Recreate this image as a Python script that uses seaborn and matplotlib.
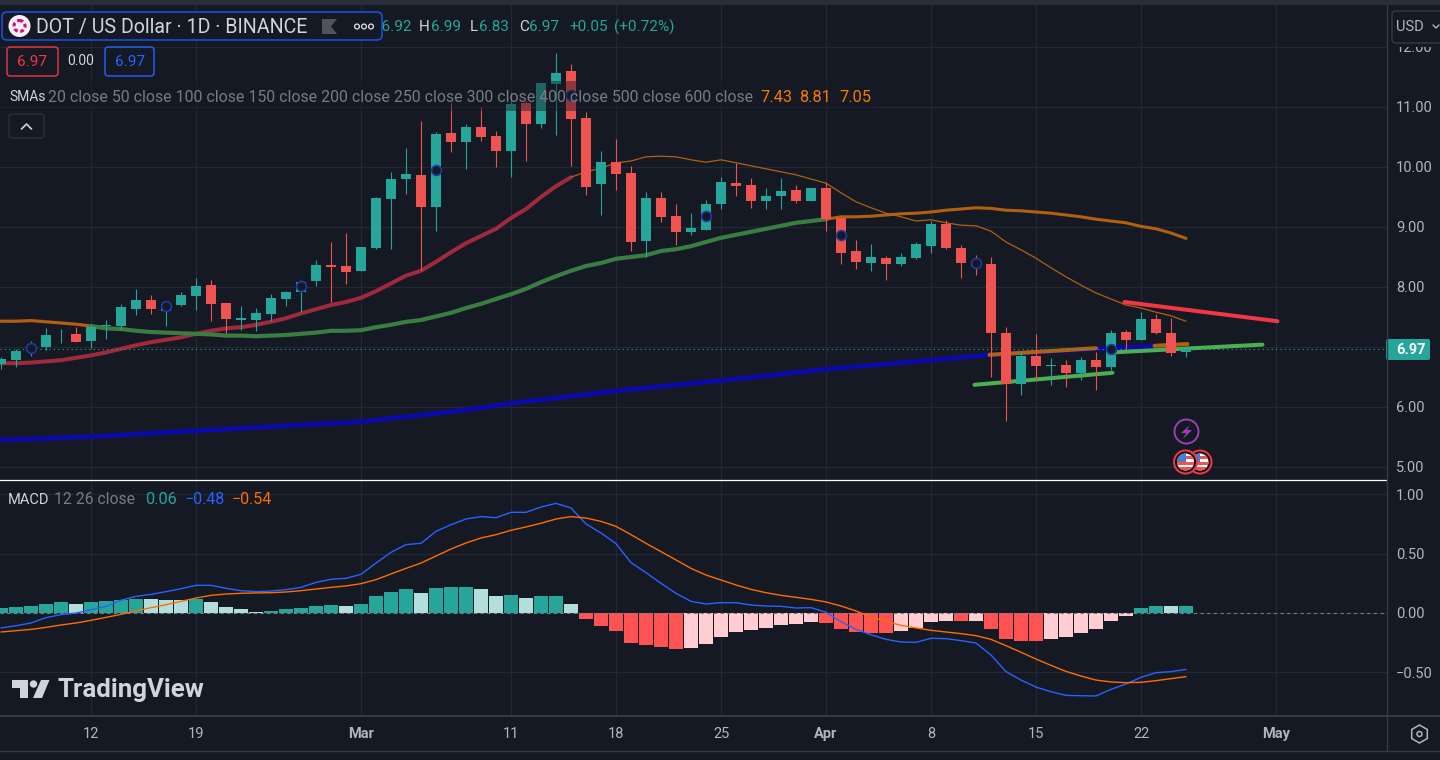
import matplotlib
matplotlib.use('Agg')
import matplotlib.pyplot as plt
from matplotlib.patches import Circle, FancyBboxPatch, Polygon, Rectangle, RegularPolygon
import seaborn as sns

# days counted from 12 Feb
days = list(range(-6, 74))
opens = [6.72, 6.78, 6.93, 7.00, 7.21, 7.22, 7.10, 7.35, 7.35, 7.63, 7.78, 7.60, 7.70, 7.85, 8.03, 7.73, 7.45, 7.45, 7.55, 7.80,
         7.92, 8.10, 8.37, 8.35, 8.27, 8.65, 9.47, 9.80, 9.87, 9.33, 10.57, 10.42, 10.67, 10.52, 10.27, 11.07, 10.72, 11.38, 11.60, 10.82,
         9.72, 10.08, 9.90, 8.77, 9.48, 9.18, 8.92, 8.95, 9.38, 9.73, 9.70, 9.43, 9.52, 9.62, 9.43, 9.65, 9.15, 8.60, 8.40, 8.48,
         8.38, 8.48, 8.68, 9.05, 8.65, 8.42, 8.38, 7.23, 6.38, 6.85, 6.68, 6.70, 6.57, 6.78, 6.67, 7.25, 7.12, 7.47, 7.23, 6.92]
closes = [6.80, 6.93, 7.00, 7.20, 7.22, 7.08, 7.33, 7.36, 7.67, 7.78, 7.63, 7.72, 7.87, 8.02, 7.72, 7.47, 7.48, 7.57, 7.82, 7.92,
          8.08, 8.37, 8.33, 8.25, 8.67, 9.48, 9.80, 9.88, 9.33, 10.55, 10.42, 10.67, 10.50, 10.27, 11.05, 10.72, 11.40, 11.57, 10.80, 9.67,
          10.08, 9.88, 8.75, 9.48, 9.17, 8.92, 8.98, 9.38, 9.75, 9.68, 9.43, 9.52, 9.60, 9.43, 9.65, 9.13, 8.57, 8.42, 8.50, 8.38,
          8.50, 8.72, 9.05, 8.65, 8.40, 8.35, 7.23, 6.38, 6.85, 6.68, 6.70, 6.57, 6.78, 6.67, 7.23, 7.12, 7.47, 7.23, 6.90, 6.97]
highs = [6.83, 6.96, 7.10, 7.32, 7.30, 7.33, 7.37, 7.45, 7.72, 7.97, 7.87, 7.75, 7.92, 8.15, 8.12, 7.73, 7.68, 7.65, 7.88, 7.93,
         8.12, 8.45, 8.75, 8.90, 8.67, 9.50, 9.92, 10.32, 10.77, 10.58, 11.07, 10.72, 11.00, 10.60, 11.25, 11.10, 11.42, 11.90, 11.72, 10.92,
         10.27, 10.47, 10.02, 9.58, 9.58, 9.38, 9.23, 9.45, 9.83, 10.07, 9.82, 9.65, 9.82, 9.70, 9.65, 9.75, 9.15, 8.78, 8.72, 8.52,
         8.57, 8.75, 9.10, 9.12, 8.70, 8.53, 8.50, 7.33, 6.93, 7.22, 6.82, 6.78, 6.83, 6.92, 7.28, 7.28, 7.58, 7.55, 7.48, 6.99]
lows = [6.64, 6.67, 6.85, 6.95, 7.07, 7.08, 6.98, 7.13, 7.28, 7.53, 7.55, 7.35, 7.68, 7.62, 7.43, 7.23, 7.28, 7.27, 7.43, 7.68,
        7.58, 8.02, 7.75, 8.05, 8.27, 8.63, 8.63, 9.55, 8.28, 8.93, 10.25, 9.97, 10.43, 10.00, 9.83, 10.10, 10.65, 10.53, 10.02, 9.53,
        9.20, 9.62, 8.60, 8.50, 9.08, 8.70, 8.87, 8.95, 9.30, 9.52, 9.32, 9.30, 9.30, 9.40, 9.43, 8.93, 8.38, 8.30, 8.27, 8.12,
        8.35, 8.47, 8.57, 8.63, 8.15, 8.20, 6.50, 5.77, 6.20, 6.43, 6.37, 6.33, 6.45, 6.28, 6.62, 6.97, 7.12, 7.22, 6.85, 6.83]

sma_a = [6.73, 6.73, 6.74, 6.76, 6.78, 6.82, 6.86, 6.91, 6.97, 7.03, 7.08, 7.12, 7.16, 7.22, 7.27, 7.31, 7.33, 7.37, 7.42, 7.48,
         7.56, 7.63, 7.70, 7.75, 7.82, 7.93, 8.06, 8.19, 8.27, 8.42, 8.58, 8.73, 8.85, 8.97, 9.15, 9.30, 9.50, 9.68, 9.83, 9.92,
         9.98, 10.07, 10.10, 10.17, 10.18, 10.17, 10.12, 10.08, 10.12, 10.07, 10.02, 9.97, 9.92, 9.87, 9.80, 9.73, 9.57, 9.42, 9.32, 9.23,
         9.17, 9.10, 9.12, 9.07, 9.03, 9.02, 8.93, 8.75, 8.62, 8.48, 8.32, 8.17, 8.03, 7.90, 7.80, 7.70, 7.65, 7.58, 7.52, 7.43]
sma_b = [7.43, 7.43, 7.44, 7.42, 7.40, 7.38, 7.35, 7.31, 7.30, 7.27, 7.25, 7.24, 7.23, 7.22, 7.21, 7.19, 7.19, 7.18, 7.19, 7.20,
         7.22, 7.24, 7.27, 7.27, 7.28, 7.33, 7.37, 7.42, 7.45, 7.51, 7.57, 7.65, 7.72, 7.80, 7.88, 7.97, 8.08, 8.18, 8.27, 8.35,
         8.40, 8.47, 8.50, 8.53, 8.60, 8.63, 8.68, 8.75, 8.82, 8.87, 8.92, 8.97, 9.02, 9.07, 9.10, 9.13, 9.17, 9.17, 9.18, 9.20,
         9.22, 9.23, 9.25, 9.28, 9.30, 9.32, 9.31, 9.28, 9.27, 9.25, 9.23, 9.20, 9.17, 9.13, 9.10, 9.07, 9.01, 8.97, 8.90, 8.81]
sma_c_days = [-6, 0, 7, 14, 18, 24, 28, 35, 42, 49, 56, 60, 67, 71]
sma_c = [5.45, 5.505, 5.605, 5.70, 5.755, 5.92, 6.06, 6.27, 6.44, 6.63, 6.78, 6.87, 6.97, 7.02]

marker_days = [-4, 5, 14, 23, 32, 41, 50, 59, 68]
marker_prices = [6.98, 7.68, 8.01, 9.95, 11.2, 9.18, 8.87, 8.40, 6.97]

# hand drawn trend lines
red_line_days, red_line = [68.9, 79.1], [7.75, 7.43]
green_low_days, green_low = [58.9, 68.1], [6.37, 6.57]
green_high_days, green_high = [68.1, 78.1], [6.91, 7.04]
orange_a_days, orange_a = [59.9, 67.0], [6.87, 6.98]
orange_b_days, orange_b = [70.9, 73.1], [7.02, 7.05]

macd_hist = [.04, .05, .06, .08, .09, .08, .09, .10, .11, .12, .12, .11, .11, .115, .09, .05, .03, .01, .02, .03,
             .045, .06, .07, .06, .08, .14, .18, .205, .17, .21, .22, .22, .20, .145, .155, .13, .14, .14, .08, -.05,
             -.11, -.15, -.25, -.27, -.29, -.30, -.295, -.26, -.20, -.16, -.145, -.125, -.10, -.09, -.075, -.085, -.135, -.16, -.17, -.17,
             -.15, -.125, -.075, -.07, -.07, -.07, -.135, -.22, -.235, -.235, -.22, -.20, -.17, -.135, -.07, -.025, .04, .06, .06, .06]
hist_shade = list('GGGGGLGGGGLLLGLLLLGGGGGLGGGGLGGGLLGLGGLRRR' + 'RRRR' + 'PPPPPPPPP' + 'RRRRR' + 'PPPP' + 'RP' + 'RRRR' + 'PPPPPP' + 'GGLG')
macd_line = [-.126, -.107, -.084, -.039, -.014, 0, .028, .056, .107, .14, .157, .18, .205, .233, .233, .208, .188, .18, .185, .197,
             .216, .258, .284, .292, .326, .421, .511, .576, .587, .688, .744, .792, .812, .803, .848, .848, .893, .924, .885, .75,
             .674, .584, .424, .34, .25, .166, .098, .076, .087, .087, .067, .059, .056, .042, .045, .006, -.073, -.138, -.183, -.222,
             -.244, -.247, -.213, -.216, -.233, -.253, -.354, -.494, -.565, -.624, -.663, -.694, -.697, -.699, -.643, -.598, -.542, -.503, -.494, -.475]
signal_line = [-.16, -.149, -.138, -.121, -.101, -.084, -.062, -.037, -.011, .017, .045, .07, .098, .126, .149, .16, .166, .169, .171, .177,
               .188, .202, .216, .228, .247, .281, .329, .376, .421, .48, .539, .59, .632, .66, .697, .725, .756, .792, .812, .80,
               .772, .73, .66, .587, .517, .447, .376, .32, .278, .236, .199, .171, .149, .132, .115, .093, .059, .017, -.034, -.07,
               -.104, -.126, -.146, -.16, -.174, -.191, -.222, -.275, -.331, -.388, -.441, -.492, -.531, -.565, -.581, -.587, -.584, -.57, -.553, -.536]

tick_days = [0, 7, 18, 28, 35, 42, 49, 56, 63, 70, 79]
tick_labels = ['12', '19', 'Mar', '11', '18', '25', 'Apr', '8', '15', '22', 'May']
price_ticks = [5, 6, 7, 8, 9, 10, 11, 12]
macd_ticks = [1.0, 0.5, 0.0, -0.5]
last_price = 6.97

BG = '#151924'
GRID = '#242833'
AXIS = '#363a45'
LABEL = '#b2b5be'
TEAL = '#26a69a'
RED = '#ef5350'
CRIMSON = '#a02a3c'
FOREST = '#3a7d41'
BURNT = '#b0600f'
NAVY = '#0a0aa8'
W, H, PANE_R = 1440, 760, 1387

sns.set_theme(style='dark', rc={'axes.facecolor': BG, 'figure.facecolor': BG, 'savefig.facecolor': BG})
plt.rcParams['font.family'] = ['Roboto', 'DejaVu Sans']


def pane(top, bottom):
    return [0, 1 - bottom / H, PANE_R / W, (bottom - top) / H]


def thick(ax, x, y, color, width=2.9, **kw):
    sns.lineplot(x=x, y=y, color=color, linewidth=width, ax=ax, estimator=None, solid_capstyle='round', **kw)


fig = plt.figure(figsize=(14.4, 7.6), dpi=100)
ax = fig.add_axes(pane(5, 479))
ax2 = fig.add_axes(pane(481, 716))

# price pane
thick(ax, days[:39], sma_a[:39], CRIMSON)
thick(ax, days[38:], sma_a[38:], BURNT, width=0.9)
thick(ax, days[:7], sma_b[:7], BURNT, width=2.3)
thick(ax, days[6:56], sma_b[6:56], FOREST, width=3.0)
thick(ax, days[55:], sma_b[55:], BURNT, width=2.2)
thick(ax, sma_c_days, sma_c, NAVY, width=3.4)
thick(ax, orange_a_days, orange_a, BURNT)
thick(ax, orange_b_days, orange_b, BURNT)
thick(ax, green_low_days, green_low, '#4caf50')
thick(ax, green_high_days, green_high, '#4caf50')

colors = [TEAL if c >= o else RED for o, c in zip(opens, closes)]
ax.vlines(days, lows, highs, colors=colors, linewidth=0.8, zorder=3)
ax.bar(days, [abs(c - o) for o, c in zip(opens, closes)], bottom=[min(o, c) for o, c in zip(opens, closes)],
       width=0.73, color=colors, edgecolor='none', linewidth=0, zorder=3)
thick(ax, red_line_days, red_line, '#f23645', zorder=4)
dots = sns.scatterplot(x=marker_days, y=marker_prices, s=50, ax=ax, zorder=5).collections[-1]
dots.set_facecolor(BG)
dots.set_edgecolor('#1c3aa0')
dots.set_linewidth(1.2)
ax.axhline(last_price, color=TEAL, linewidth=0.8, linestyle=(0, (1, 3)), zorder=2)

ax.set_xlim(-91 / 15, (PANE_R - 91) / 15)
ax.set_ylim((767 - 479) / 60, (767 - 5) / 60)
ax.set_yticks(price_ticks)
ax.set_yticklabels([f'{p:.2f}' for p in price_ticks])

# macd pane
sns.barplot(x=days, y=macd_hist, hue=hist_shade, native_scale=True, dodge=False, legend=False, width=0.92, gap=0,
            palette={'G': TEAL, 'L': '#b2dfdb', 'R': '#ff5252', 'P': '#ffcdd2'}, saturation=1, linewidth=0, ax=ax2)
ax2.axhline(0, color='#787b86', linewidth=0.8, linestyle=(0, (3, 3)), zorder=3)
sns.lineplot(x=days, y=macd_line, color='#2962ff', linewidth=1.0, ax=ax2, zorder=4)
sns.lineplot(x=days, y=signal_line, color='#ff6d00', linewidth=1.0, ax=ax2, zorder=4)
ax2.set_xlim(ax.get_xlim())
ax2.set_ylim(-103 / 118.7, 132 / 118.7)
ax2.set_yticks(macd_ticks)
ax2.set_yticklabels(['1.00', '0.50', '0.00', '\u22120.50'])
ax2.set_xticks(tick_days)
ax2.set_xticklabels(tick_labels)
for lab in ax2.get_xticklabels():
    lab.set_fontweight('bold' if lab.get_text() in ('Mar', 'Apr', 'May') else 'normal')
ax2.set_xlabel('')

for a in (ax, ax2):
    a.set_xticks(tick_days)
    a.yaxis.tick_right()
    a.grid(True, color=GRID, linewidth=0.9)
    a.set_axisbelow(True)
    a.tick_params(axis='y', length=0, pad=6.5, labelsize=10.5, labelcolor=LABEL)
    for s in a.spines.values():
        s.set_visible(False)
ax.tick_params(axis='x', length=0, labelbottom=False)
ax2.tick_params(axis='x', length=0, pad=8, labelsize=10.5, labelcolor=LABEL)

# everything TradingView draws over the panes, in pixels
ov = fig.add_axes([0, 0, 1, 1], zorder=10)
ov.set_xlim(0, W)
ov.set_ylim(H, 0)
ov.axis('off')
ov.patch.set_visible(False)


def label(x, y, s, color=LABEL, size=10.5, **kw):
    ov.text(x, y, s, color=color, fontsize=size, va='center', **kw)


def box(x0, y0, x1, y1, fc='none', ec=AXIS, lw=1.0, r=3, **kw):
    ov.add_patch(FancyBboxPatch((x0, y0), x1 - x0, y1 - y0, boxstyle=f'round,pad=0,rounding_size={r}',
                                fc=fc, ec=ec, lw=lw, **kw))


ov.add_patch(Rectangle((0, 0), W, 5, fc='#2a2e39', ec='none'))
ov.plot([0, PANE_R], [479.5, 479.5], color='white', lw=0.9)
ov.plot([PANE_R, PANE_R], [5, 751], color=AXIS, lw=1.0)
ov.plot([0, W], [716, 716], color=AXIS, lw=1.4)
ov.plot([0, W], [751, 751], color=AXIS, lw=1.0)

# header
ov.add_patch(Rectangle((0, 81), 875, 30, fc=BG, ec='none', alpha=0.45))
label(412, 27, 'O6.92', TEAL, 11, ha='right', zorder=0.5)
box(2, 12, 382, 40, fc=BG, ec='#1e53e5', lw=1.1, r=5, zorder=1)
ov.add_patch(Circle((19.5, 26), 11, fc='#f0f3fa', ec='none', zorder=2))
ov.add_patch(Circle((19.5, 26), 5.5, fc='none', ec='#e6007a', lw=2.2, ls=(0, (1.2, 0.9)), zorder=2))
label(36, 27, 'DOT / US Dollar \u00b7 1D \u00b7 BINANCE', '#d1d4dc', 14.1)
ov.add_patch(Polygon([(322, 19), (337, 19), (331, 26.5), (337, 34), (322, 34)], fc='#50535e', ec='none', zorder=2))
for x in (357, 364, 371):
    ov.add_patch(Circle((x, 26.5), 2.4, fc='none', ec='#d1d4dc', lw=1.0, zorder=2))
for x, s, c in [(419, 'H', '#d1d4dc'), (431, '6.99', TEAL), (470, 'L', '#d1d4dc'), (479, '6.83', TEAL), (519, 'C', '#d1d4dc'),
                (529, '6.97', TEAL), (569, '+0.05', TEAL), (614, '(+0.72%)', TEAL)]:
    label(x, 27, s, c, 11)

box(7, 47, 58, 76, ec='#f23645', lw=1.0)
label(32.5, 62, '6.97', '#f23645', 11, ha='center')
label(81, 61, '0.00', '#d1d4dc', 10, ha='center')
box(105, 47, 154, 76, ec='#2962ff', lw=1.0)
label(129.5, 62, '6.97', '#2962ff', 11, ha='center')

label(9, 97, 'SMAs', '#d1d4dc', 10)
label(48.5, 97, '20 close 50 close 100 close 150 close 200 close 250 close 300 close 400 close 500 close 600 close', '#787b86', 11.4)
for x, s in [(760, '7.43'), (799, '8.81'), (839, '7.05')]:
    label(x, 97, s, '#f57c00', 11.8)
box(9, 114, 44, 138, ec='#2a2e39', lw=1.0)
ov.plot([21.5, 26.5, 31.5], [129, 124, 129], color='#d1d4dc', lw=1.2)

# right side
ov.add_patch(Rectangle((1389, 6), 51, 41, fc=BG, ec='none'))
box(1392, 11, 1446, 43, fc=BG, ec=AXIS, lw=1.0, r=4)
label(1396, 27, 'USD', LABEL, 10.5)
ov.plot([1433, 1436, 1439], [25, 28, 25], color=LABEL, lw=1.0)
box(1386, 339, 1430, 360, fc=TEAL, ec='none', r=2)
label(1396, 349.5, '6.97', 'white', 10.5, fontweight='bold')
ov.add_patch(RegularPolygon((1419.5, 734), 6, radius=9, fc='none', ec=LABEL, lw=1.1))
ov.add_patch(Circle((1419.5, 734), 2.5, fc='none', ec=LABEL, lw=1.1))

# events
ov.add_patch(Circle((1186.5, 431.5), 12, fc=BG, ec='#9c3fb5', lw=1.4))
ov.add_patch(Polygon([(1190, 425), (1181, 433), (1186, 433), (1183, 439), (1192, 430), (1187, 430)], fc='#9c3fb5', ec='none'))
for cx in (1200, 1185.5):
    ov.add_patch(Circle((cx, 462), 12.5, fc='#f23645', ec='none'))
    disc = Circle((cx, 462), 10.5, fc='#111111', ec='none')
    ov.add_patch(disc)
    inner = Circle((cx, 462), 8.5, fc='white', ec='none')
    ov.add_patch(inner)
    for sy in (456, 462, 467):
        stripe = Rectangle((cx - 9, sy), 18, 3, fc='#ef5350', ec='none')
        ov.add_patch(stripe)
        stripe.set_clip_path(inner)
    canton = Rectangle((cx - 9, 453), 9, 8.5, fc='#3f7fd6', ec='none')
    ov.add_patch(canton)
    canton.set_clip_path(inner)

# macd legend
label(8, 500, 'MACD', '#d1d4dc', 10.5)
label(54, 500, '12 26 close', '#787b86', 11.3)
label(145, 500, '0.06', TEAL, 11.8)
label(185, 500, '\u22120.48', '#2962ff', 11.5)
label(232, 500, '\u22120.54', '#ff6d00', 11.5)

# watermark
WM = '#d1d4dc'
ov.add_patch(Polygon([(12, 680), (28, 680), (28, 698), (20, 698), (20, 688), (12, 688)], fc=WM, ec='none'))
ov.add_patch(Circle((33.5, 684), 3.7, fc=WM, ec='none'))
ov.add_patch(Polygon([(41, 680), (49.5, 680), (42, 698), (33, 698)], fc=WM, ec='none'))
label(58, 690, 'TradingView', WM, 18.6, fontweight='bold')

fig.savefig('out.png', dpi=100)
